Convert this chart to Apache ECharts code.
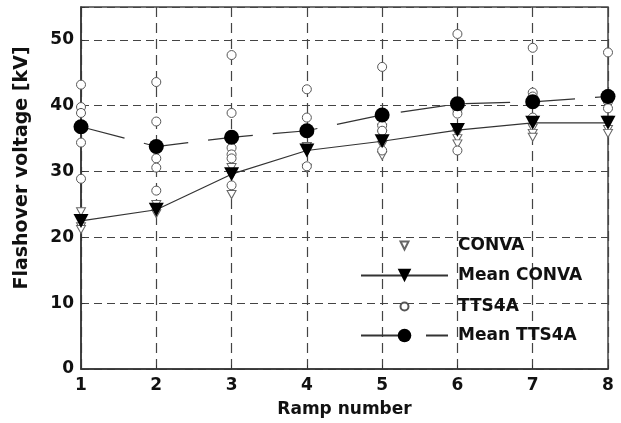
<!DOCTYPE html>
<html>
<head>
<meta charset="utf-8">
<script src="https://cdn.jsdelivr.net/npm/echarts@6/dist/echarts.min.js"></script>
<style>
html,body{margin:0;padding:0;background:#fff}
#chart{width:621px;height:423px}
</style>
</head>
<body>
<div id="chart"></div>
<script>
// ramp numbers on the x axis
var ramps = [1, 2, 3, 4, 5, 6, 7, 8];
var yTicks = [0, 10, 20, 30, 40, 50];

// single shots per ramp
var convaByRamp = [
  [23.9, 21.6, 21.2],
  [25.0, 24.3, 23.6],
  [30.6, 29.4, 26.5],
  [33.8, 33.0, 30.5],
  [36.6, 35.6, 34.0, 32.4],
  [35.8, 35.0, 34.2],
  [36.6, 35.8, 35.2],
  [37.8, 36.4, 35.8]
];
var tts4aByRamp = [
  [43.2, 39.8, 38.9, 34.4, 28.9],
  [43.6, 37.6, 32.0, 30.6, 27.1],
  [47.7, 38.9, 33.6, 32.6, 32.0, 27.9],
  [42.5, 38.2, 30.8],
  [45.9, 37.0, 36.2, 33.2],
  [50.9, 39.4, 38.8, 33.2],
  [48.8, 42.0, 41.4, 38.2],
  [48.1, 41.8, 40.6, 39.6]
];
var meanConva = [22.5, 24.2, 29.6, 33.2, 34.6, 36.3, 37.4, 37.4];
var meanTts4a = [36.8, 33.8, 35.2, 36.2, 38.6, 40.3, 40.6, 41.4];

function toPoints(byRamp) {
  var pts = [];
  byRamp.forEach(function (vals, i) {
    vals.forEach(function (v) { pts.push([ramps[i], v]); });
  });
  return pts;
}
function pair(vals) {
  return vals.map(function (v, i) { return [ramps[i], v]; });
}

var triDown = 'path://M0,0L10,0L5,9Z';
var font = 'DejaVu Sans';
var legendText = {color: '#111', fontFamily: font, fontWeight: 'bold', fontSize: 17, padding: [0, 0, 0, 5]};

function legendRow(name, top, h) {
  return {
    data: [name],
    orient: 'vertical',
    left: 355,
    top: top,
    itemWidth: 87,
    itemHeight: h,
    textStyle: legendText,
    selectedMode: false
  };
}

var chart = echarts.init(document.getElementById('chart'));
chart.setOption({
  animation: false,
  grid: {left: 81, right: 13, top: 7, bottom: 53, show: true, borderColor: '#444', borderWidth: 1.5},
  legend: [
    legendRow('CONVA', 232, 10),
    legendRow('Mean CONVA', 262, 17),
    legendRow('TTS4A', 293, 10),
    legendRow('Mean TTS4A', 322, 17)
  ],
  xAxis: {
    type: 'value', min: 1, max: 8, interval: 1,
    name: 'Ramp number', nameLocation: 'middle', nameGap: 32,
    nameTextStyle: {color: '#111', fontFamily: font, fontWeight: 'bold', fontSize: 17},
    axisLine: {lineStyle: {color: '#333', width: 1.5}},
    axisTick: {inside: true, length: 4, lineStyle: {color: '#333'}},
    axisLabel: {color: '#111', fontFamily: font, fontWeight: 'bold', fontSize: 17, margin: 8},
    splitLine: {show: true, lineStyle: {color: '#444', type: [10, 6], width: 1.2}}
  },
  yAxis: {
    type: 'value', min: 0, max: 55, interval: 10,
    name: 'Flashover voltage [kV]', nameLocation: 'middle', nameGap: 49,
    nameTextStyle: {color: '#111', fontFamily: font, fontWeight: 'bold', fontSize: 19, padding: [0, 0, 0, 40]},
    axisLine: {show: true, lineStyle: {color: '#333', width: 1.5}},
    axisTick: {show: true, inside: true, length: 4, lineStyle: {color: '#333'}},
    axisLabel: {
      color: '#111', fontFamily: font, fontWeight: 'bold', fontSize: 17, margin: 7,
      formatter: function (v) { return yTicks.indexOf(v) >= 0 ? String(v) : ''; }
    },
    splitLine: {show: true, lineStyle: {color: '#444', type: [8, 5], width: 1.2}}
  },
  series: [
    {
      name: 'CONVA', type: 'line', symbol: triDown, symbolSize: [9, 8], z: 2,
      itemStyle: {color: '#fff', borderColor: '#666', borderWidth: 1},
      lineStyle: {opacity: 0},
      data: toPoints(convaByRamp)
    },
    {
      name: 'Mean CONVA', type: 'line', symbol: triDown, symbolSize: [15, 14], z: 4,
      itemStyle: {color: '#000'},
      lineStyle: {color: '#333', width: 1.2},
      data: pair(meanConva)
    },
    {
      name: 'TTS4A', type: 'line', symbol: 'circle', symbolSize: 9, z: 3,
      itemStyle: {color: '#fff', borderColor: '#555', borderWidth: 1},
      lineStyle: {opacity: 0},
      data: toPoints(tts4aByRamp)
    },
    {
      name: 'Mean TTS4A', type: 'line', symbol: 'circle', symbolSize: 15, z: 5,
      itemStyle: {color: '#000'},
      lineStyle: {color: '#333', width: 1.2, type: [45, 20]},
      data: pair(meanTts4a)
    }
  ]
});
</script>
</body>
</html>
